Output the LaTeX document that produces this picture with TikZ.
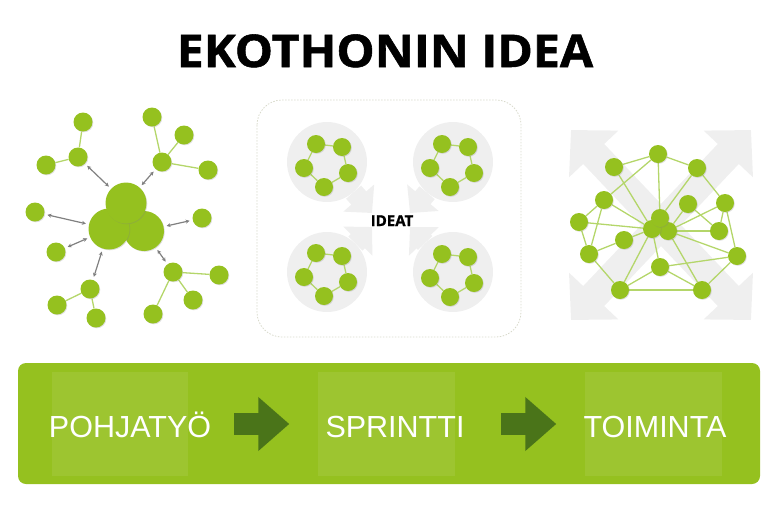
\documentclass[tikz,border=0pt]{standalone}
\usepackage{fontspec}
\setmainfont{Liberation Sans}
\newfontfamily\titlefont[BoldFeatures={FakeBold=1.2}]{Open Sans}
\usetikzlibrary{arrows.meta,positioning,shadows,backgrounds}
\definecolor{ekogreen}{HTML}{95C11F}
\definecolor{tiegreen}{HTML}{B4D66A}
\definecolor{gogreen}{HTML}{4A7419}
\definecolor{bggray}{HTML}{EFEFEF}
\definecolor{framegray}{HTML}{D8DACB}

\begin{document}
\begin{tikzpicture}[x=1pt,y=-1pt,
  dot/.style={circle,fill=ekogreen,minimum size=19pt,inner sep=0pt,drop shadow={opacity=.25,shadow xshift=.8pt,shadow yshift=-.8pt}},
  hub/.style={dot,minimum size=41pt},
  tie/.style={tiegreen,line width=1.3pt},
  link/.style={{Stealth[length=4pt,width=4pt]}-{Stealth[length=4pt,width=4pt]},gray,line width=1.2pt,shorten <=3pt,shorten >=3pt},
  cloud/.style={circle,fill=bggray,minimum size=80pt,inner sep=0pt},
  push/.style={bggray,line width=20pt,-{Triangle[length=20pt,width=40pt]}},
  spread/.style={bggray,line width=29pt,-{Triangle[length=33pt,width=66pt]}},
  stage/.style={rectangle,fill=white,fill opacity=.08,minimum width=137pt,minimum height=104pt,inner sep=0pt},
  go/.style={gogreen,line width=22pt,-{Triangle[length=31pt,width=52pt]},shorten <=46pt,shorten >=28.5pt},
  word/.style={anchor=base,text=white,font=\fontsize{30.5}{36}\selectfont}]
  \useasboundingbox (0,0) rectangle (768,512);
  \node[anchor=base,font=\titlefont\bfseries\fontsize{45}{50}\selectfont] (title) at (385,67) {\scalebox{1.07}[1]{EKOTHONIN IDEA}};
  \begin{pgfonlayer}{background}
  \coordinate (X0) at (661,225);
  \coordinate (X1) at (571,130);
  \coordinate (X2) at (751,130);
  \coordinate (X3) at (571,320);
  \coordinate (X4) at (751,320);
  \draw[spread] (X0) -- (X1);
  \draw[spread] (X0) -- (X2);
  \draw[spread] (X0) -- (X3);
  \draw[spread] (X0) -- (X4);
  \draw[framegray,dash pattern=on 1.5pt off 1.5pt,line width=.8pt,rounded corners=25pt] (257,100) rectangle (521,337);
  \node[cloud] (Q1) at (327,162) {};
  \node[cloud] (Q2) at (453,162) {};
  \node[cloud] (Q3) at (327,272) {};
  \node[cloud] (Q4) at (453,272) {};
  \coordinate (T1) at (372,213);
  \coordinate (T2) at (410,213);
  \coordinate (T3) at (372,227);
  \coordinate (T4) at (410,227);
  \draw[push] (Q1) -- (T1);
  \draw[push] (Q2) -- (T2);
  \draw[push] (Q3) -- (T3);
  \draw[push] (Q4) -- (T4);
  \end{pgfonlayer}
  \node[dot] (L1) at (83,122) {};
  \node[dot] (L2) at (78,157) {};
  \node[dot] (L3) at (46,165) {};
  \node[dot] (L4) at (152,117) {};
  \node[dot] (L5) at (184,135) {};
  \node[dot] (L6) at (162,162) {};
  \node[dot] (L7) at (208,170) {};
  \node[dot] (L8) at (35,212) {};
  \node[dot] (L9) at (56,252) {};
  \node[dot] (L10) at (202,218) {};
  \node[dot] (L11) at (90,289) {};
  \node[dot] (L12) at (57,305) {};
  \node[dot] (L13) at (96,318) {};
  \node[dot] (L14) at (173,272) {};
  \node[dot] (L15) at (219,275) {};
  \node[dot] (L16) at (193,300) {};
  \node[dot] (L17) at (153,314) {};
  \node[hub,minimum size=40pt] (C3) at (144,231) {};
  \node[hub] (C2) at (109,229) {};
  \node[hub] (C1) at (126,203) {};
  \begin{pgfonlayer}{background}
  \draw[tie] (L1) -- (L2);
  \draw[tie] (L2) -- (L3);
  \draw[tie] (L6) -- (L4);
  \draw[tie] (L6) -- (L5);
  \draw[tie] (L6) -- (L7);
  \draw[tie] (L11) -- (L12);
  \draw[tie] (L11) -- (L13);
  \draw[tie] (L14) -- (L15);
  \draw[tie] (L14) -- (L16);
  \draw[tie] (L14) -- (L17);
  \end{pgfonlayer}
  \draw[link] (L2) -- (C1);
  \draw[link] (L6) -- (C1);
  \draw[link] (L8) -- (C2);
  \draw[link] (L9) -- (C2);
  \draw[link] (L11) -- (C2);
  \draw[link] (L10) -- (C3);
  \draw[link] (C3) -- (L14);
  \node[dot,minimum size=18pt] (P11) at (316,144) {};
  \node[dot,minimum size=18pt] (P12) at (342,147) {};
  \node[dot,minimum size=18pt] (P13) at (348,173) {};
  \node[dot,minimum size=18pt] (P14) at (324,187) {};
  \node[dot,minimum size=18pt] (P15) at (304,168) {};
  \node[dot,minimum size=18pt] (P21) at (442,144) {};
  \node[dot,minimum size=18pt] (P22) at (468,147) {};
  \node[dot,minimum size=18pt] (P23) at (474,173) {};
  \node[dot,minimum size=18pt] (P24) at (450,187) {};
  \node[dot,minimum size=18pt] (P25) at (430,168) {};
  \node[dot,minimum size=18pt] (P31) at (316,253) {};
  \node[dot,minimum size=18pt] (P32) at (342,256) {};
  \node[dot,minimum size=18pt] (P33) at (348,282) {};
  \node[dot,minimum size=18pt] (P34) at (324,296) {};
  \node[dot,minimum size=18pt] (P35) at (304,277) {};
  \node[dot,minimum size=18pt] (P41) at (442,254) {};
  \node[dot,minimum size=18pt] (P42) at (468,257) {};
  \node[dot,minimum size=18pt] (P43) at (474,283) {};
  \node[dot,minimum size=18pt] (P44) at (450,297) {};
  \node[dot,minimum size=18pt] (P45) at (430,278) {};
  \begin{pgfonlayer}{background}
  \draw[tie] (P11) -- (P12) -- (P13) -- (P14) -- (P15) -- (P11);
  \draw[tie] (P21) -- (P22) -- (P23) -- (P24) -- (P25) -- (P21);
  \draw[tie] (P31) -- (P32) -- (P33) -- (P34) -- (P35) -- (P31);
  \draw[tie] (P41) -- (P42) -- (P43) -- (P44) -- (P45) -- (P41);
  \end{pgfonlayer}
  \node[anchor=base,font=\titlefont\bfseries\fontsize{15}{18}\selectfont] (ideat) at (392,226) {IDEAT};
  \node[dot,minimum size=18pt] (R1) at (658,154) {};
  \node[dot,minimum size=18pt] (R2) at (614,167) {};
  \node[dot,minimum size=18pt] (R3) at (697,168) {};
  \node[dot,minimum size=18pt] (R4) at (604,200) {};
  \node[dot,minimum size=18pt] (R5) at (688,204) {};
  \node[dot,minimum size=18pt] (R6) at (725,203) {};
  \node[dot,minimum size=18pt] (R7) at (579,222) {};
  \node[dot,minimum size=18pt] (R8) at (719,231) {};
  \node[dot,minimum size=18pt] (R9) at (624,240) {};
  \node[dot,minimum size=18pt] (R10) at (589,254) {};
  \node[dot,minimum size=18pt] (R11) at (737,256) {};
  \node[dot,minimum size=18pt] (R12) at (660,267) {};
  \node[dot,minimum size=18pt] (R13) at (620,290) {};
  \node[dot,minimum size=18pt] (R14) at (702,290) {};
  \node[dot,minimum size=18pt] (H3) at (668,231) {};
  \node[dot,minimum size=18pt] (H2) at (652,229) {};
  \node[dot,minimum size=18pt] (H1) at (660,218) {};
  \begin{pgfonlayer}{background}
  \draw[tie] (R1) -- (R2);
  \draw[tie] (R1) -- (R3);
  \draw[tie] (R1) -- (H1);
  \draw[tie] (R1) -- (R4);
  \draw[tie] (R2) -- (H2);
  \draw[tie] (R3) -- (H1);
  \draw[tie] (R3) -- (R6);
  \draw[tie] (R4) -- (H2);
  \draw[tie] (R4) -- (R7);
  \draw[tie] (R4) -- (R10);
  \draw[tie] (R5) -- (H3);
  \draw[tie] (R5) -- (R8);
  \draw[tie] (R6) -- (H3);
  \draw[tie] (R6) -- (R8);
  \draw[tie] (R6) -- (R11);
  \draw[tie] (R7) -- (H2);
  \draw[tie] (R7) -- (R10);
  \draw[tie] (R8) -- (H3);
  \draw[tie] (R9) -- (H2);
  \draw[tie] (R9) -- (R10);
  \draw[tie] (R10) -- (R13);
  \draw[tie] (R11) -- (H3);
  \draw[tie] (R11) -- (R12);
  \draw[tie] (R11) -- (R14);
  \draw[tie] (R12) -- (H2);
  \draw[tie] (R12) -- (R13);
  \draw[tie] (R12) -- (R14);
  \draw[tie] (R13) -- (H2);
  \draw[tie] (R13) -- (R14);
  \draw[tie] (R14) -- (H3);
  \end{pgfonlayer}
  \node[fill=ekogreen,rounded corners=8pt,minimum width=742pt,minimum height=121pt,inner sep=0pt] (bar) at (389,423.5) {};
  \node[stage,minimum width=136pt] (S1) at (120,424) {};
  \node[stage] (S2) at (386.5,424) {};
  \node[stage] (S3) at (653.5,424) {};
  \node[word] (W1) at (130,437) {POHJATYÖ};
  \node[word] (W2) at (395,437) {SPRINTTI};
  \node[word] (W3) at (655,437) {TOIMINTA};
  \draw[go] (S1) -- (S2);
  \draw[go] (S2) -- (S3);
\end{tikzpicture}
\end{document}
